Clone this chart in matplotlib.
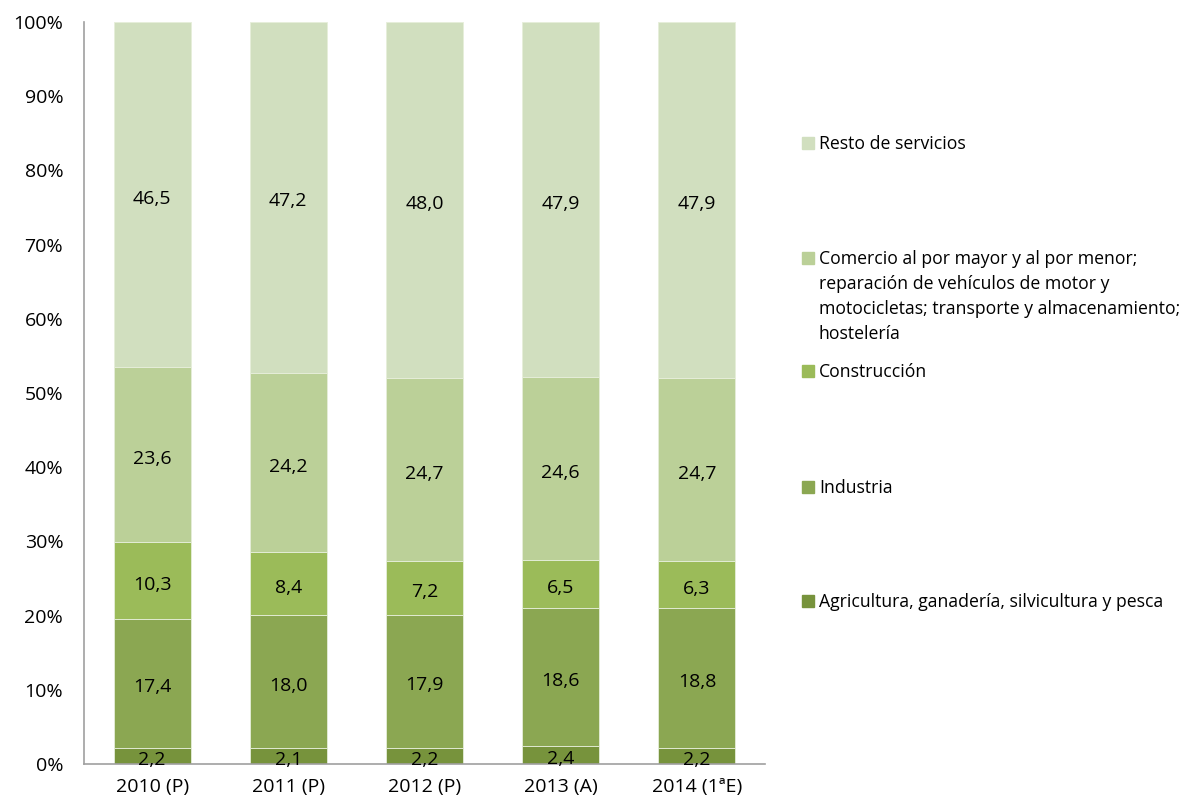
import numpy as np
import matplotlib.pyplot as plt
from matplotlib.patches import Rectangle

plt.rcParams['font.family'] = ['Open Sans', 'DejaVu Sans']

anios = ['2010 (P)', '2011 (P)', '2012 (P)', '2013 (A)', '2014 (1ªE)']

agricultura = [2.2, 2.1, 2.2, 2.4, 2.2]
industria = [17.4, 18.0, 17.9, 18.6, 18.8]
construccion = [10.3, 8.4, 7.2, 6.5, 6.3]
comercio = [23.6, 24.2, 24.7, 24.6, 24.7]
resto = [46.5, 47.2, 48.0, 47.9, 47.9]

sectores = [
    ('Agricultura, ganadería, silvicultura y pesca', agricultura, '#77933C'),
    ('Industria', industria, '#8BA752'),
    ('Construcción', construccion, '#9BBB59'),
    ('Comercio al por mayor y al por menor;\nreparación de vehículos de motor y\n'
     'motocicletas; transporte y almacenamiento;\nhostelería', comercio, '#BBD098'),
    ('Resto de servicios', resto, '#D1DFBF'),
]

fig = plt.figure(figsize=(11.89, 8.07), dpi=100)
ax = fig.add_axes([0.0707, 0.0533, 0.5727, 0.9194])

x = np.arange(len(anios))
# 100% apilado: cada barra se reescala a su total
total = np.sum([np.array(v) for _, v, _ in sectores], axis=0)
base = np.zeros(len(anios))
for nombre, valores, color in sectores:
    valores = np.array(valores)
    alto = valores / total * 100
    ax.bar(x, alto, bottom=base, width=0.565, color=color,
           edgecolor='#E6EEDA', linewidth=0.6)
    for xi, b, h, v in zip(x, base, alto, valores):
        ax.annotate(f'{v:.1f}'.replace('.', ','), (xi, b + h / 2),
                    xytext=(0, -3), textcoords='offset points',
                    ha='center', va='center', fontsize=14, color='black')
    base += alto

ax.set_xlim(-0.5, len(anios) - 0.5)
ax.set_ylim(0, 100)
ax.set_yticks(np.arange(0, 101, 10))
ax.set_yticklabels([f'{v}%' for v in range(0, 101, 10)], fontsize=14)
ax.set_xticks(x)
ax.set_xticklabels(anios, fontsize=14)
ax.tick_params(axis='y', length=0, pad=15)
ax.tick_params(axis='x', length=0, pad=10)
for s in ['top', 'right']:
    ax.spines[s].set_visible(False)
for s in ['left', 'bottom']:
    ax.spines[s].set_color('#A0A0A0')
    ax.spines[s].set_linewidth(1.2)

# leyenda a la derecha, de arriba abajo
W, H = 1189, 807
y_leyenda = [143, 258, 371, 487, 601]
for (nombre, valores, color), yp in zip(sectores[::-1], y_leyenda):
    fig.patches.append(Rectangle((802 / W, 1 - (yp + 6) / H), 12 / W, 12 / H,
                                 transform=fig.transFigure, color=color))
    fig.text(819 / W, 1 - (yp - 8) / H, nombre, ha='left', va='top',
             fontsize=12.7, linespacing=1.5)

fig.savefig('out.png', dpi=100)
